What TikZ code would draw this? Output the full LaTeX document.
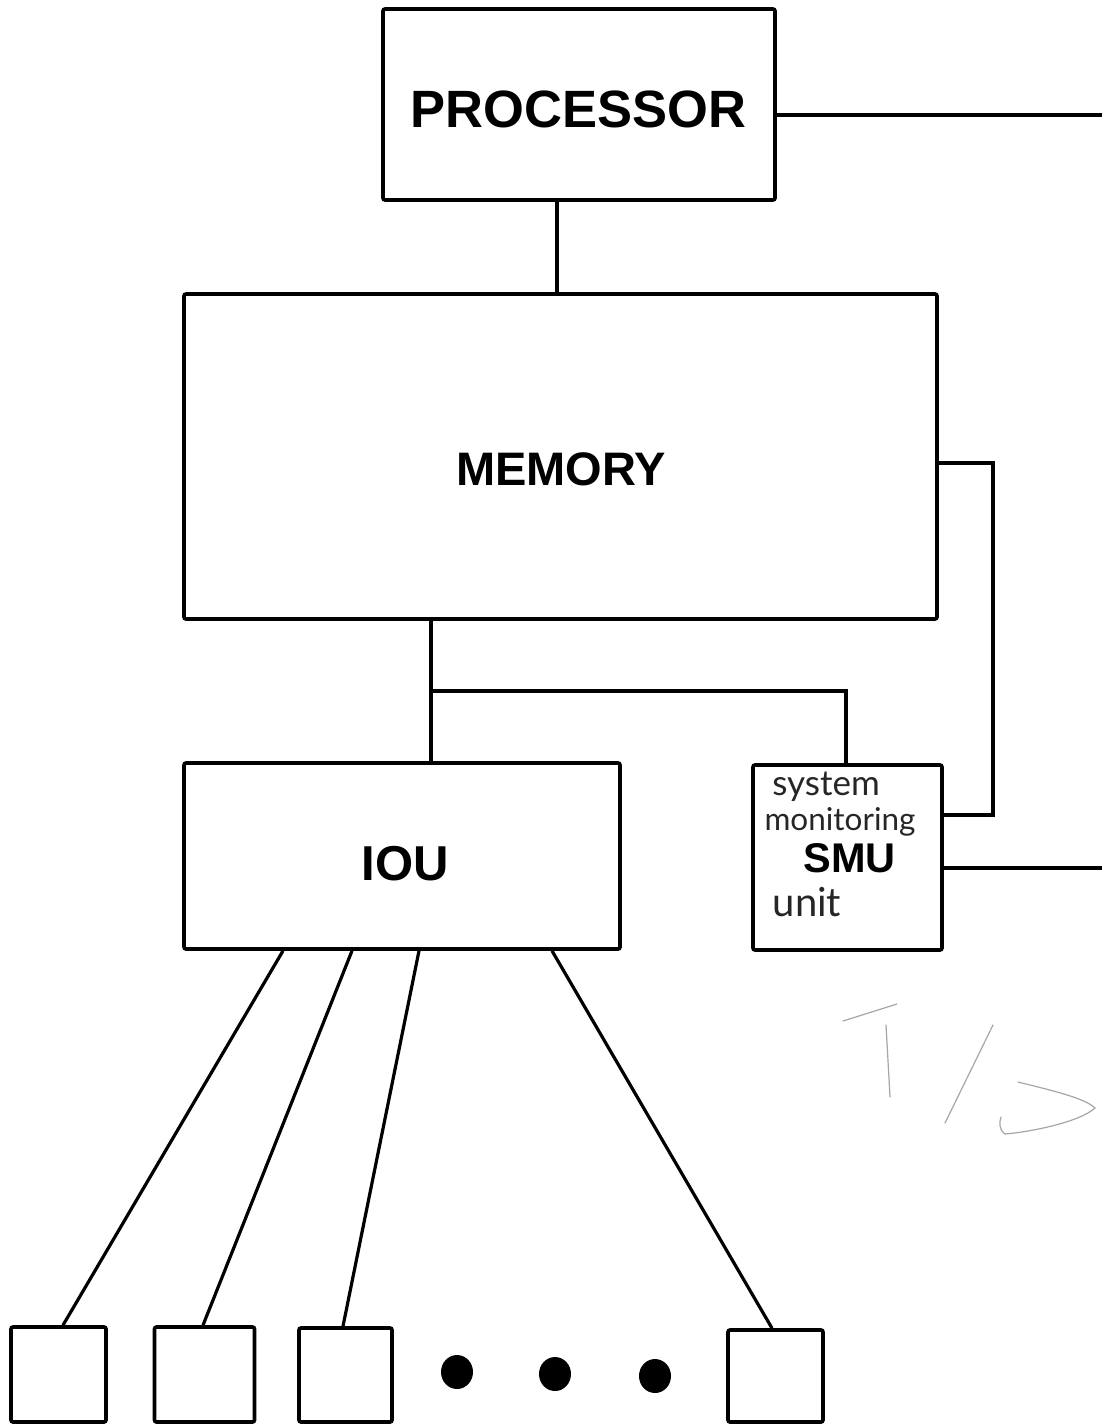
\documentclass[tikz,border=0pt]{standalone}
\usepackage{fontspec}
\setmainfont{Liberation Sans}
\newfontfamily\handfont{Lato}
\begin{document}
\begin{tikzpicture}[x=1pt,y=-1pt,
  blk/.style={draw=black,line width=3.6pt,rounded corners=2pt,inner sep=0pt,fill=white},
  wire/.style={draw=black,line width=3.2pt},
  lab/.style={font=\bfseries\fontsize{50}{50}\selectfont,anchor=base,inner sep=0pt},
  hand/.style={font=\handfont\fontsize{31}{31}\selectfont,anchor=base,inner sep=0pt,text=black!85},
  dotc/.style={fill=black,draw=none},
  scrib/.style={draw=black!35,line width=1.2pt,line cap=round}]
\useasboundingbox (0,0) rectangle (1102,1424);
\fill[white] (0,0) rectangle (1102,1424);

% boxes
\node[blk,minimum width=392pt,minimum height=191pt] (proc) at (579,104.5) {};
\node[blk,minimum width=753pt,minimum height=325pt] (mem) at (560.5,456.5) {};
\node[blk,minimum width=436pt,minimum height=186pt] (iou) at (402,856) {};
\node[blk,minimum width=189pt,minimum height=185pt] (smu) at (847.5,857.5) {};
\node[blk,minimum width=95pt,minimum height=95pt] (b1) at (58.5,1374.5) {};
\node[blk,minimum width=100pt,minimum height=95pt] (b2) at (204.5,1374.5) {};
\node[blk,minimum width=93pt,minimum height=94pt] (b3) at (345.5,1375) {};
\node[blk,minimum width=95pt,minimum height=92pt] (b4) at (775.5,1376) {};

% labels
\node[lab,font=\bfseries\fontsize{52.5}{52.5}\selectfont] (tproc) at (578.5,127) {PROCESSOR};
\node[lab,font=\bfseries\fontsize{47}{47}\selectfont] (tmem) at (561,485) {MEMORY};
\node[lab,font=\bfseries\fontsize{49}{49}\selectfont] (tiou) at (405,880) {IOU};
\node[lab,font=\bfseries\fontsize{41.5}{41.5}\selectfont] (tsmu) at (849.5,872) {SMU};
\node[hand,font=\handfont\fontsize{35}{35}\selectfont] (h1) at (826,795) {system};
\node[hand,font=\handfont\fontsize{31.5}{31.5}\selectfont] (h2) at (840,830) {monitoring};
\node[hand,font=\handfont\fontsize{40}{40}\selectfont] (h3) at (807,916) {unit};

% coordinates for connectors
\coordinate (pr) at (1102,115);
\coordinate (sr) at (1102,868);
\coordinate (mj) at (993,463);
\coordinate (mk) at (993,815);
\coordinate (br) at (431,691);
\coordinate (bs) at (846,691);

% connectors
\draw[wire] (proc.east |- pr) -- (pr);
\draw[wire] (proc.south -| 557,0) -- (mem.north -| 557,0);
\draw[wire] (mem.east |- mj) -- (mj) -- (mk) -- (smu.east |- mk);
\draw[wire] (smu.east |- sr) -- (sr);
\draw[wire] (mem.south -| br) -- (iou.north -| br);
\draw[wire] (br) -- (bs) -- (smu.north -| bs);
\draw[wire] (iou.south -| 283,0) -- (b1.north -| 63,0);
\draw[wire] (iou.south -| 352,0) -- (b2.north -| 203,0);
\draw[wire] (iou.south -| 419,0) -- (b3.north -| 343,0);
\draw[wire] (iou.south -| 552,0) -- (b4.north -| 772,0);

% dots
\fill[dotc] (457,1372) ellipse [x radius=16,y radius=17];
\fill[dotc] (555,1374) ellipse [x radius=16,y radius=17];
\fill[dotc] (655,1376) ellipse [x radius=16,y radius=17];

% faint pencil scribble
\draw[scrib] (843,1021) -- (897,1004);
\draw[scrib] (886,1025) -- (890,1097);
\draw[scrib] (993,1025) -- (945,1123);
\draw[scrib] (1018,1082) .. controls (1050,1090) and (1085,1098) .. (1095,1108)
  .. controls (1080,1122) and (1030,1132) .. (1005,1134)
  .. controls (999,1130) and (999,1122) .. (1001,1117);
\end{tikzpicture}
\end{document}
